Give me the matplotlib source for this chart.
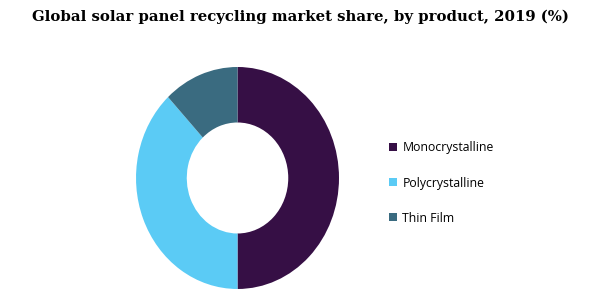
import matplotlib.pyplot as plt
from matplotlib.patches import Patch

products = ["Monocrystalline", "Polycrystalline", "Thin Film"]
shares = [50, 38, 12]
colors = ["#360F45", "#5BCBF5", "#3A6B80"]

fig = plt.figure(figsize=(6, 3), dpi=100)
ax = fig.add_axes([0.2267, 0.0367, 0.3383, 0.74])

ax.pie(shares, colors=colors, startangle=90, counterclock=False,
       radius=1, wedgeprops=dict(width=0.5, linewidth=0))
ax.set_aspect("auto")
ax.set_xlim(-1, 1)
ax.set_ylim(-1, 1)
ax.axis("off")

fig.text(0.5, 0.945, "Global solar panel recycling market share, by product, 2019 (%)",
         ha="center", va="center", fontsize=10.75, fontweight="bold",
         family="DejaVu Serif")

handles = [Patch(facecolor=c, edgecolor="none") for c in colors]
fig.legend(handles, products, loc="center left", bbox_to_anchor=(0.63, 0.39),
           frameon=False, handlelength=0.65, handleheight=0.65,
           handletextpad=0.45, labelspacing=1.8,
           prop={"family": "Open Sans", "size": 8.8})

fig.savefig("out.png", dpi=100)
